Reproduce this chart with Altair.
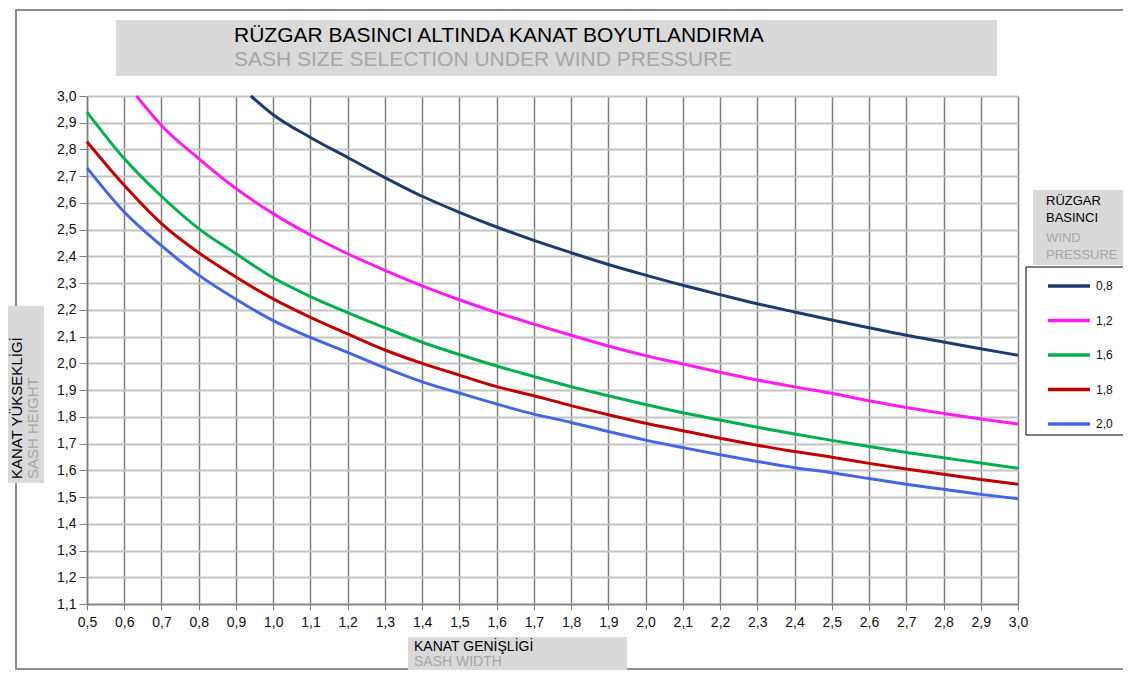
import altair as alt
import pandas as pd

# ---- data ----
series_labels = ["0,8", "1,2", "1,6", "1,8", "2,0"]
series_colors = ["#1f3b6e", "#ff1cf0", "#00b050", "#c00000", "#4466e6"]

w_08 = [0.94, 1.0, 1.1, 1.2, 1.3, 1.4, 1.5, 1.6, 1.7, 1.8, 1.9, 2.0, 2.1, 2.2, 2.3, 2.4, 2.5, 2.6, 2.7, 2.8, 2.9, 3.0]
h_08 = [3.0, 2.93, 2.845, 2.77, 2.695, 2.625, 2.565, 2.51, 2.46, 2.414, 2.37, 2.33, 2.292, 2.257, 2.223, 2.192, 2.162, 2.133, 2.105, 2.08, 2.055, 2.03]

w_12 = [0.633, 0.7, 0.8, 0.9, 1.0, 1.1, 1.2, 1.3, 1.4, 1.5, 1.6, 1.7, 1.8, 1.9, 2.0, 2.1, 2.2, 2.3, 2.4, 2.5, 2.6, 2.7, 2.8, 2.9, 3.0]
h_12 = [3.0, 2.89, 2.766, 2.654, 2.56, 2.48, 2.41, 2.348, 2.29, 2.238, 2.19, 2.147, 2.105, 2.065, 2.029, 1.998, 1.967, 1.938, 1.912, 1.888, 1.86, 1.835, 1.813, 1.792, 1.773]

w_full = [0.5, 0.6, 0.7, 0.8, 0.9, 1.0, 1.1, 1.2, 1.3, 1.4, 1.5, 1.6, 1.7, 1.8, 1.9, 2.0, 2.1, 2.2, 2.3, 2.4, 2.5, 2.6, 2.7, 2.8, 2.9, 3.0]
h_16 = [2.94, 2.766, 2.625, 2.504, 2.41, 2.32, 2.25, 2.19, 2.133, 2.079, 2.033, 1.99, 1.951, 1.913, 1.879, 1.846, 1.815, 1.788, 1.761, 1.736, 1.712, 1.689, 1.667, 1.647, 1.627, 1.608]
h_18 = [2.829, 2.666, 2.523, 2.414, 2.323, 2.241, 2.172, 2.11, 2.05, 2.0, 1.956, 1.913, 1.879, 1.842, 1.808, 1.776, 1.748, 1.72, 1.694, 1.67, 1.649, 1.626, 1.605, 1.585, 1.566, 1.548]
h_20 = [2.731, 2.566, 2.44, 2.33, 2.24, 2.16, 2.097, 2.041, 1.983, 1.931, 1.889, 1.848, 1.81, 1.779, 1.745, 1.713, 1.685, 1.658, 1.633, 1.61, 1.591, 1.569, 1.548, 1.529, 1.51, 1.494]

x_ticks = [round(0.5 + 0.1 * i, 1) for i in range(26)]
y_ticks = [round(1.1 + 0.1 * i, 1) for i in range(20)]

title_tr = "RÜZGAR BASINCI ALTINDA KANAT BOYUTLANDIRMA"
title_en = "SASH SIZE SELECTION UNDER WIND PRESSURE"
ytitle_tr = "KANAT YÜKSEKLİGİ"
ytitle_en = "SASH HEIGHT"
xtitle_tr = "KANAT GENİŞLİGİ"
xtitle_en = "SASH WIDTH"
legend_tr = ["RÜZGAR", "BASINCI"]
legend_en = ["WIND", "PRESSURE"]

rows = []
for lab, ws, hs in [("0,8", w_08, h_08), ("1,2", w_12, h_12), ("1,6", w_full, h_16),
                    ("1,8", w_full, h_18), ("2,0", w_full, h_20)]:
    for w, h in zip(ws, hs):
        rows.append({"width": w, "height": h, "p": lab})
df = pd.DataFrame(rows)

FONT = "Liberation Sans"
BOXGRAY = "#d9d9d9"
TXTGRAY = "#a6a6a6"
W, H = 931, 508

lab_expr = "replace(format(datum.value, '.1f'), '.', ',')"

lines = alt.Chart(df).mark_line(strokeWidth=3, interpolate="monotone").encode(
    x=alt.X("width:Q", scale=alt.Scale(domain=[0.5, 3.0], nice=False, zero=False),
            axis=alt.Axis(values=x_ticks, labelExpr=lab_expr, title=None, labelFlush=False,
                          grid=True, gridColor="#7f7f7f", gridWidth=1.5,
                          domainColor="#7f7f7f", domainWidth=1.5,
                          tickColor="#7f7f7f", tickSize=6, labelPadding=5,
                          labelFont=FONT, labelFontSize=14, labelColor="#111")),
    y=alt.Y("height:Q", scale=alt.Scale(domain=[1.1, 3.0], nice=False, zero=False),
            axis=alt.Axis(values=y_ticks, labelExpr=lab_expr, title=None, labelFlush=False,
                          grid=True, gridColor="#c3c3c3", gridWidth=2,
                          domainColor="#7f7f7f", domainWidth=1.5,
                          tickColor="#7f7f7f", tickSize=8, labelPadding=3,
                          labelFont=FONT, labelFontSize=14, labelColor="#111")),
    color=alt.Color("p:N", scale=alt.Scale(domain=series_labels, range=series_colors),
                    legend=alt.Legend(title=None, orient="none", legendX=939, legendY=180,
                                      symbolType="stroke", symbolStrokeWidth=3.5,
                                      symbolSize=1764, clipHeight=20, rowPadding=14.5,
                                      symbolOffset=20, labelOffset=4, padding=0,
                                      labelFont=FONT, labelFontSize=12, labelColor="#111")),
    order="width:Q",
)

one = alt.Data(values=[{}])


def box(x1, x2, y1, y2, fill=BOXGRAY):
    return alt.Chart(one).mark_rect(fill=fill).encode(
        x=alt.value(x1), x2=alt.value(x2), y=alt.value(y1), y2=alt.value(y2))


def txt(s, x, y, color, size, angle=0):
    return alt.Chart(one).mark_text(align="left", baseline="middle", font=FONT,
                                    fontSize=size, color=color, angle=angle).encode(
        x=alt.value(x), y=alt.value(y), text=alt.value(s))


frame = alt.Chart(one).mark_rect(fill="transparent", stroke="#8c8c8c", strokeWidth=2).encode(
    x=alt.value(-71), x2=alt.value(1060), y=alt.value(-86), y2=alt.value(573))

layers = [
    frame,
    box(29, 910, -76, -20),
    txt(title_tr, 147, -60, "#000", 21),
    txt(title_en, 147, -36, TXTGRAY, 21),
    box(-80, -43, 210, 387),
    txt(ytitle_tr, -70, 383, "#000", 15, angle=270),
    txt(ytitle_en, -54, 383, TXTGRAY, 15, angle=270),
    box(321, 540, 541, 574),
    txt(xtitle_tr, 327, 551, "#000", 14),
    txt(xtitle_en, 327, 566, TXTGRAY, 14),
    box(946, 1040, 94, 169),
    txt(legend_tr[0], 959, 105, "#000", 13),
    txt(legend_tr[1], 959, 122, "#000", 13),
    txt(legend_en[0], 959, 142, TXTGRAY, 13),
    txt(legend_en[1], 959, 159, TXTGRAY, 13),
    alt.Chart(one).mark_rect(fill="white", stroke="#000", strokeWidth=1).encode(
        x=alt.value(939), x2=alt.value(1060), y=alt.value(171), y2=alt.value(339)),
    lines,
]

chart = alt.layer(*layers).properties(
    width=W, height=H,
    autosize=alt.AutoSizeParams(type="none"),
    padding={"left": 79, "top": 88, "right": 105, "bottom": 66},
).configure_view(stroke="#7f7f7f", strokeWidth=1.5).configure(
    font=FONT, background="white")

chart.save("out.html", embed_options={"renderer": "svg", "actions": False})
